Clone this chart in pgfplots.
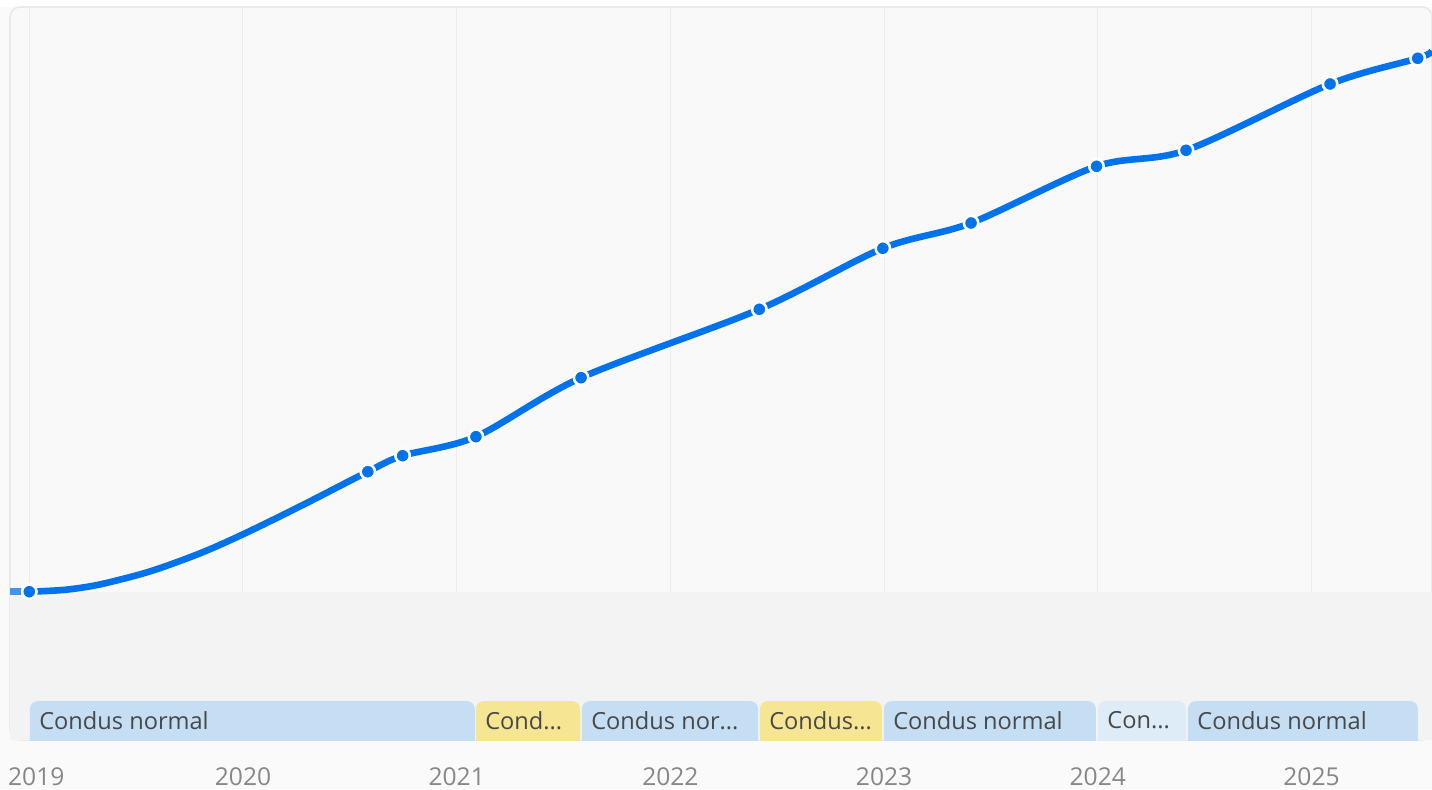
\documentclass[border=0pt]{standalone}
\usepackage{pgfplots}
\pgfplotsset{compat=1.18}
\usepackage{fontspec}
\setmainfont{Open Sans}
\definecolor{lineblue}{RGB}{0,114,235}
\definecolor{bandblue}{RGB}{195,221,245}
\definecolor{bandyellow}{RGB}{247,229,142}
\definecolor{bandpale}{RGB}{221,236,248}
\definecolor{plotbg}{RGB}{249,249,249}
\definecolor{lowbg}{RGB}{243,243,243}
\definecolor{pagebg}{RGB}{250,250,250}
\definecolor{boxedge}{RGB}{234,234,234}
\definecolor{gridc}{RGB}{236,236,238}
\definecolor{labtext}{RGB}{72,72,72}
\definecolor{ticktext}{RGB}{135,135,135}
\begin{document}
\begin{tikzpicture}
\fill[pagebg] (0,0) rectangle (716pt,394.5pt);
\fill[white] (0,391pt) rectangle (716pt,394.5pt);
\begin{axis}[
  at={(5pt,24.5pt)}, anchor=south west,
  scale only axis, width=711pt, height=366.5pt,
  xmin=2018.9097, xmax=2025.5639, ymin=0, ymax=733,
  axis line style={draw=none},
  axis background/.style={fill=plotbg, draw=boxedge, line width=0.8pt, rounded corners=5pt},
  xtick={2019,2020,2021,2022,2023,2024,2025},
  xticklabels={\kern7pt 2019,2020,2021,2022,2023,2024,2025},
  xticklabel style={font=\fontsize{12.3}{14}\selectfont, text=ticktext, inner sep=0pt, anchor=north, yshift=-13.5pt},
  major tick length=0pt,
  ytick=\empty,
  xmajorgrids, grid style={gridc, line width=0.5pt},
]
% lower gray region
\addplot[draw=none, fill=lowbg] coordinates {(2018.9097,0) (2018.9097,148) (2025.5639,148) (2025.5639,0)};
% phase bands
\addplot[draw=none, fill=bandblue, fill opacity=0.95, rounded corners=4pt] coordinates {(2019.003,-20) (2019.003,39) (2021.085,39) (2021.085,-20)};
\addplot[draw=none, fill=bandyellow, fill opacity=0.95, rounded corners=4pt] coordinates {(2021.090,-20) (2021.090,39) (2021.577,39) (2021.577,-20)};
\addplot[draw=none, fill=bandblue, fill opacity=0.95, rounded corners=4pt] coordinates {(2021.586,-20) (2021.586,39) (2022.410,39) (2022.410,-20)};
\addplot[draw=none, fill=bandyellow, fill opacity=0.95, rounded corners=4pt] coordinates {(2022.419,-20) (2022.419,39) (2022.990,39) (2022.990,-20)};
\addplot[draw=none, fill=bandblue, fill opacity=0.95, rounded corners=4pt] coordinates {(2022.999,-20) (2022.999,39) (2023.991,39) (2023.991,-20)};
\addplot[draw=none, fill=bandpale, fill opacity=0.95, rounded corners=4pt] coordinates {(2024.001,-20) (2024.001,39) (2024.413,39) (2024.413,-20)};
\addplot[draw=none, fill=bandblue, fill opacity=0.95, rounded corners=4pt] coordinates {(2024.422,-20) (2024.422,39) (2025.498,39) (2025.498,-20)};
\begin{scope}[every node/.style={anchor=west, text=labtext, font=\fontsize{11.8}{14}\selectfont, inner sep=0pt, xshift=4.5pt}]
\node at (axis cs:2019.003,19.5) {Condus normal};
\node at (axis cs:2021.090,19.5) {Cond...};
\node at (axis cs:2021.586,19.5) {Condus nor...};
\node at (axis cs:2022.419,19.5) {Condus...};
\node at (axis cs:2022.999,19.5) {Condus normal};
\node at (axis cs:2024.001,19.5) {Con...};
\node at (axis cs:2024.422,19.5) {Condus normal};
\end{scope}
% main curve (data points plus points)
\addplot[lineblue!75, line width=3.3pt] coordinates {(2018.9097,148.3) (2019.0,148.3)};
\addplot[lineblue, line width=3.3pt, smooth, tension=0.5] coordinates {
(2019.0,148.3) (2019.167,150.2) (2019.331,155.6) (2019.565,168.6) (2019.799,186.7)
(2020.000,205.7) (2020.266,233.5)
(2020.584,268.3) (2020.747,284.3) (2021.090,303.3)
(2021.582,362.3) (2022.416,430.7) (2022.994,491.7) (2023.407,517) (2023.994,573.7)
(2024.413,589.7) (2025.087,656) (2025.497,681.7) (2025.5639,689)};
\addplot[only marks, mark=*, mark size=3.6pt, mark options={fill=lineblue, draw=white, line width=1.3pt}] coordinates {
(2019.0,148.3) (2020.584,268.3) (2020.747,284.3) (2021.090,303.3)
(2021.582,362.3) (2022.416,430.7) (2022.994,491.7) (2023.407,517) (2023.994,573.7)
(2024.413,589.7) (2025.087,656) (2025.497,681.7)};
\end{axis}
\pgfresetboundingbox
\useasboundingbox (0,0) rectangle (716pt,394.5pt);
\end{tikzpicture}
\end{document}
